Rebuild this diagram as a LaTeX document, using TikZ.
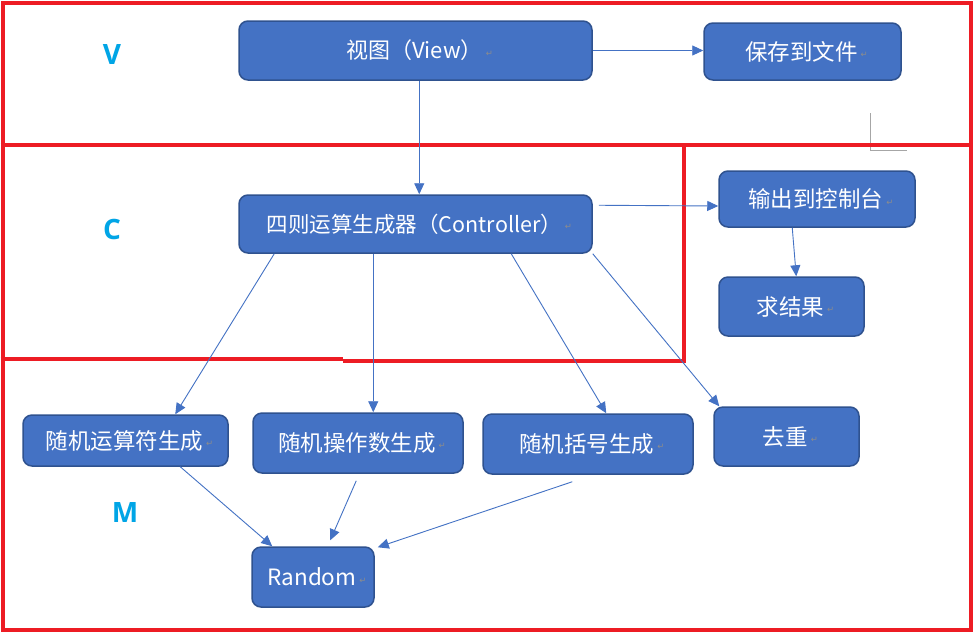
\documentclass[tikz,border=0pt]{standalone}
\usepackage{fontspec}
\newfontfamily\cjk{Noto Sans CJK SC}
\newfontfamily\dv{DejaVu Sans}
\newfontfamily\lblfont{Open Sans}
\usetikzlibrary{arrows.meta}
\definecolor{boxfill}{HTML}{4472C4}
\definecolor{boxline}{HTML}{2F528F}
\definecolor{redline}{HTML}{ED1C24}
\definecolor{lblblue}{HTML}{00A5E6}
\definecolor{markgray}{HTML}{8C8C8C}
\newcommand\pmark{\hspace{3pt}\raisebox{2.5pt}{\dv\fontsize{8.5}{8.5}\selectfont\textcolor{markgray}{↵}}}
\newcommand\leadsp{\hspace*{8pt}}
\begin{document}
\begin{tikzpicture}[x=1pt,y=-1pt,
  box/.style={draw=boxline, line width=1.5pt, fill=boxfill, rounded corners=9pt,
    text=white, font=\cjk\fontsize{22.5}{22.5}\selectfont, inner sep=0pt},
  conn/.style={draw=boxfill, line width=0.9pt, -{Triangle[length=11pt,width=10pt]}},
  frame/.style={draw=redline, line width=4pt},
  zone/.style={text=lblblue, font=\lblfont\bfseries\fontsize{28}{28}\selectfont}]
\useasboundingbox (0,0) rectangle (974,633);
\fill[white] (0,0) rectangle (974,633);

% gray corner mark
\draw[gray!70, line width=0.8pt] (870,113) |- (907,150);

% red frames
\draw[frame] (2.5,2.5) rectangle (971,629.5);
\draw[frame] (0.5,145) -- (973,145);
\draw[frame] (684,145) -- (684,362.5);
\draw[frame] (0.5,358.5) -- (343,358.5);
\draw[frame] (343,360.5) -- (686,360.5);

% zone labels
\node[zone] (lv) at (112,55) {V};
\node[zone] (lc) at (112,229) {C};
\node[zone] (lm) at (125,512) {M};

% boxes
\node[box, minimum width=353pt, minimum height=59pt, font=\cjk\fontsize{22}{22}\selectfont] (view) at (415.5,50.5) {\leadsp 视图（View）\pmark};
\node[box, minimum width=197pt, minimum height=57pt] (save) at (802.5,51.5) {\leadsp 保存到文件\pmark};
\node[box, minimum width=353pt, minimum height=58pt, font=\cjk\fontsize{21.5}{21.5}\selectfont] (ctrl) at (415.5,224) {\leadsp 四则运算生成器（Controller）\pmark};
\node[box, minimum width=196pt, minimum height=56pt] (out) at (817,199) {\leadsp 输出到控制台\pmark};
\node[box, minimum width=145pt, minimum height=59pt] (res) at (791.5,306.5) {\leadsp 求结果\pmark};
\node[box, minimum width=205pt, minimum height=51pt] (op) at (125.5,440.5) {\leadsp 随机运算符生成\pmark};
\node[box, minimum width=210pt, minimum height=60pt] (num) at (358,443) {\leadsp 随机操作数生成\pmark};
\node[box, minimum width=210pt, minimum height=60pt] (brk) at (588,444) {\leadsp 随机括号生成\pmark};
\node[box, minimum width=145pt, minimum height=59pt] (ded) at (786.5,436.5) {\leadsp 去重\pmark};
\node[box, minimum width=122pt, minimum height=60pt] (rnd) at (313,577) {\leadsp Random\pmark};

% connectors
\draw[conn] (view.east) -- (view.east -| save.west);
\draw[conn] ([xshift=181pt]view.south west) -- ([xshift=181pt]ctrl.north west);
\draw[conn] ([xshift=6pt,yshift=-11pt]ctrl.north east) -- ([yshift=-7pt]out.west);
\draw[conn] ([xshift=74pt]out.south west) -- ([xshift=78pt]res.north west);
\draw[conn] ([xshift=36pt]ctrl.south west) -- ([xshift=153pt]op.north west);
\draw[conn] ([xshift=135pt]ctrl.south west) -- ([xshift=121pt]num.north west);
\draw[conn] ([xshift=273pt]ctrl.south west) -- ([xshift=124pt]brk.north west);
\draw[conn] (ctrl.south east) -- ([xshift=6pt]ded.north west);
\draw[conn] ([xshift=158pt]op.south west) -- ([xshift=21pt]rnd.north west);
\draw[conn] ([xshift=104pt,yshift=-7pt]num.south west) -- ([xshift=79pt,yshift=6pt]rnd.north west);
\draw[conn] ([xshift=90pt,yshift=-7pt]brk.south west) -- ([xshift=3pt,yshift=-1pt]rnd.north east);
\end{tikzpicture}
\end{document}
